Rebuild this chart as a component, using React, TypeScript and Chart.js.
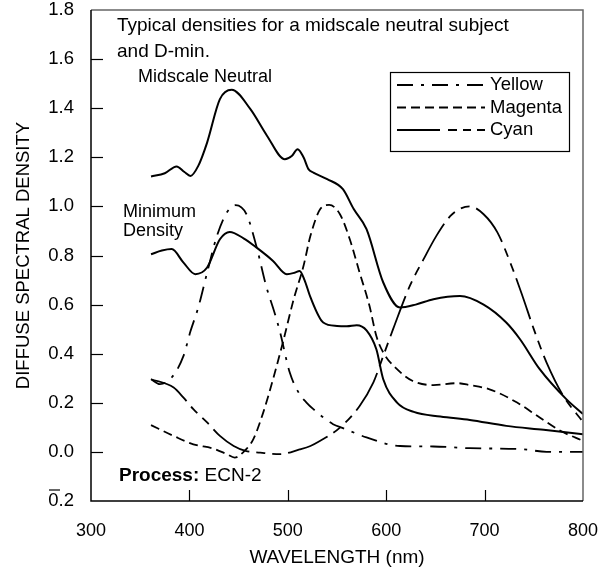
import React, { useEffect, useRef } from 'react';
import { Chart, registerables } from 'chart.js';

Chart.register(...registerables);

const FONT = '"Liberation Sans", Arial, Helvetica, sans-serif';

// Wavelength (nm) and diffuse spectral density values
const yellowNm = [361, 370, 382, 394, 401, 409, 418, 428, 438, 447, 458, 468, 478, 487, 492, 502, 512, 519, 526, 546, 556, 580, 614, 648, 685, 739, 763, 800];
const yellowD = [0.296, 0.276, 0.303, 0.391, 0.49, 0.588, 0.73, 0.88, 0.975, 1.005, 0.968, 0.839, 0.676, 0.561, 0.49, 0.323, 0.235, 0.201, 0.174, 0.113, 0.097, 0.059, 0.024, 0.022, 0.015, 0.011, 0.0, 0.0];

const magentaNm = [361, 384, 404, 424, 438, 446, 456, 465, 475, 485, 495, 506, 516, 523, 533, 542, 553, 563, 573, 583, 590, 597, 611, 627, 648, 672, 685, 705, 733, 756, 777, 800];
const magentaD = [0.109, 0.065, 0.031, 0.014, -0.009, -0.023, 0.004, 0.052, 0.16, 0.296, 0.446, 0.622, 0.758, 0.88, 0.989, 1.006, 0.968, 0.866, 0.73, 0.595, 0.472, 0.405, 0.337, 0.289, 0.272, 0.28, 0.272, 0.255, 0.201, 0.14, 0.086, 0.045];

const cyanNm = [361, 384, 394, 404, 418, 431, 445, 457, 472, 492, 512, 523, 533, 553, 573, 587, 597, 607, 624, 638, 651, 665, 675, 685, 699, 713, 728, 739, 750, 763, 780, 800];
const cyanD = [0.296, 0.262, 0.221, 0.174, 0.12, 0.065, 0.024, 0.004, -0.003, -0.009, 0.01, 0.024, 0.045, 0.099, 0.187, 0.283, 0.391, 0.5, 0.676, 0.785, 0.88, 0.96, 0.99, 1.0, 0.968, 0.894, 0.751, 0.629, 0.5, 0.364, 0.228, 0.122];

const midscaleNm = [361, 375, 387, 395, 401, 409, 418, 431, 443, 462, 479, 497, 504, 510, 516, 521, 526, 540, 556, 567, 580, 597, 614, 630, 648, 675, 699, 722, 736, 756, 783, 800];
const midscaleD = [1.122, 1.135, 1.163, 1.14, 1.124, 1.165, 1.26, 1.437, 1.475, 1.396, 1.287, 1.192, 1.205, 1.233, 1.2, 1.152, 1.138, 1.111, 1.07, 0.989, 0.907, 0.69, 0.588, 0.6, 0.622, 0.635, 0.6, 0.527, 0.459, 0.337, 0.215, 0.154];

const dminNm = [361, 372, 382, 394, 406, 418, 431, 441, 455, 468, 485, 499, 507, 512, 517, 523, 536, 550, 560, 570, 580, 590, 597, 611, 628, 655, 685, 722, 760, 800];
const dminD = [0.805, 0.82, 0.826, 0.771, 0.724, 0.751, 0.866, 0.896, 0.87, 0.833, 0.778, 0.724, 0.73, 0.737, 0.7, 0.63, 0.527, 0.513, 0.512, 0.516, 0.495, 0.418, 0.296, 0.201, 0.163, 0.144, 0.13, 0.106, 0.09, 0.072];

const xTicks = [300, 400, 500, 600, 700, 800];
const yTicks = [-0.2, 0.0, 0.2, 0.4, 0.6, 0.8, 1.0, 1.2, 1.4, 1.6, 1.8];

const legendLabels = ['Yellow', 'Magenta', 'Cyan'];

const YELLOW_DASH = [16, 8, 3, 8];
const MAGENTA_DASH = [9, 5];
const CYAN_DASH = [43, 7, 9, 7, 9, 7];

const toPoints = (xs: number[], ys: number[]) => xs.map((x, i) => ({ x, y: ys[i] }));

const decorPlugin = {
  id: 'decor',
  afterDraw(chart: any) {
    const { ctx, chartArea: ca, scales } = chart;
    const xs = scales.x;
    const ys = scales.y;
    ctx.save();
    // frame
    ctx.setLineDash([]);
    ctx.lineWidth = 1.5;
    ctx.strokeStyle = '#666';
    ctx.beginPath();
    ctx.moveTo(ca.left, ca.top);
    ctx.lineTo(ca.right, ca.top);
    ctx.lineTo(ca.right, ca.bottom);
    ctx.stroke();
    ctx.strokeStyle = '#000';
    ctx.beginPath();
    ctx.moveTo(ca.left, ca.top);
    ctx.lineTo(ca.left, ca.bottom);
    ctx.lineTo(ca.right, ca.bottom);
    ctx.stroke();

    // inward tick marks
    ctx.lineWidth = 1.2;
    ys.ticks.forEach((t: any) => {
      if (t.value > ys.min + 1e-6 && t.value < ys.max - 1e-6) {
        const py = Math.round(ys.getPixelForValue(t.value)) + 0.5;
        ctx.beginPath();
        ctx.moveTo(ca.left, py);
        ctx.lineTo(ca.left + 12, py);
        ctx.stroke();
      }
    });
    xs.ticks.forEach((t: any) => {
      if (t.value > xs.min + 1e-6 && t.value < xs.max - 1e-6) {
        const px = Math.round(xs.getPixelForValue(t.value)) + 0.5;
        ctx.beginPath();
        ctx.moveTo(px, ca.bottom);
        ctx.lineTo(px, ca.bottom - 11);
        ctx.stroke();
      }
    });

    // overbar for the negative tick label (-0.2 written as 0.2 with a bar)
    ctx.font = `18px ${FONT}`;
    const neg = ys.ticks.find((t: any) => t.value < 0);
    if (neg) {
      const py = ys.getPixelForValue(neg.value);
      const right = ca.left - 17;
      const w = ctx.measureText('0.2').width;
      const w0 = ctx.measureText('0').width;
      ctx.lineWidth = 1.2;
      ctx.beginPath();
      ctx.moveTo(right - w, py - 11);
      ctx.lineTo(right - w + w0 + 1, py - 11);
      ctx.stroke();
    }

    // annotations
    ctx.fillStyle = '#000';
    ctx.textBaseline = 'middle';
    ctx.textAlign = 'left';
    ctx.font = `19px ${FONT}`;
    ctx.fillText('Typical densities for a midscale neutral subject', 117, 26);
    ctx.fillText('and D-min.', 117, 52);
    ctx.font = `18px ${FONT}`;
    ctx.fillText('Midscale Neutral', 138, 77);
    ctx.fillText('Minimum', 123, 212);
    ctx.fillText('Density', 123, 231);
    ctx.font = `bold 19px ${FONT}`;
    ctx.fillText('Process:', 119, 476);
    const pw = ctx.measureText('Process: ').width;
    ctx.font = `19px ${FONT}`;
    ctx.fillText('ECN-2', 119 + pw, 476);

    // legend box
    ctx.font = `18.5px ${FONT}`;
    ctx.lineWidth = 1.2;
    ctx.strokeStyle = '#000';
    ctx.strokeRect(390.5, 72.5, 179, 79);
    const rows = [85, 107.5, 130];
    const dashes = [YELLOW_DASH, MAGENTA_DASH, [43, 8, 9, 6, 8, 6, 8]];
    legendLabels.forEach((lab, i) => {
      ctx.setLineDash(dashes[i]);
      ctx.lineWidth = 1.8;
      ctx.beginPath();
      ctx.moveTo(397, rows[i]);
      ctx.lineTo(485, rows[i]);
      ctx.stroke();
      ctx.setLineDash([]);
      ctx.fillText(lab, 490, rows[i]);
    });
    ctx.restore();
  },
};

export default function App() {
  const ref = useRef<HTMLCanvasElement | null>(null);

  useEffect(() => {
    document.body.style.margin = '0';
    document.body.style.overflow = 'hidden';
    const canvas = ref.current;
    if (!canvas) return;
    const common = {
      fill: false,
      pointRadius: 0,
      borderColor: '#000',
      borderWidth: 1.8,
      cubicInterpolationMode: 'monotone' as const,
    };
    const chart = new Chart(canvas, {
      type: 'line',
      data: {
        datasets: [
          { ...common, label: 'Midscale Neutral', data: toPoints(midscaleNm, midscaleD), borderWidth: 2 },
          { ...common, label: 'Minimum Density', data: toPoints(dminNm, dminD), borderWidth: 2 },
          { ...common, label: legendLabels[0], data: toPoints(yellowNm, yellowD), borderDash: YELLOW_DASH },
          { ...common, label: legendLabels[1], data: toPoints(magentaNm, magentaD), borderDash: MAGENTA_DASH },
          { ...common, label: legendLabels[2], data: toPoints(cyanNm, cyanD), borderDash: CYAN_DASH },
        ],
      },
      options: {
        animation: false,
        responsive: false,
        devicePixelRatio: 1,
        layout: { padding: { top: 10, right: 25, left: 0, bottom: 0 } },
        plugins: { legend: { display: false }, tooltip: { enabled: false } },
        scales: {
          x: {
            type: 'linear',
            min: 300,
            max: 800,
            afterBuildTicks: (s: any) => {
              s.ticks = xTicks.map((v) => ({ value: v }));
            },
            afterFit: (s: any) => {
              s.height = 70;
              s.paddingLeft = 0;
              s.paddingRight = 0;
            },
            grid: { display: false, drawTicks: false },
            border: { display: false },
            ticks: {
              padding: 19,
              color: '#000',
              font: { family: FONT, size: 18 },
              maxRotation: 0,
              autoSkip: false,
              callback: (v: any) => String(v),
            },
            title: {
              display: true,
              text: 'WAVELENGTH (nm)',
              color: '#000',
              font: { family: FONT, size: 19 },
              padding: { top: 0, bottom: 2 },
            },
          },
          y: {
            type: 'linear',
            min: -0.2,
            max: 1.8,
            afterBuildTicks: (s: any) => {
              s.ticks = yTicks.map((v) => ({ value: v }));
            },
            afterFit: (s: any) => {
              s.width = 91;
              s.paddingTop = 0;
              s.paddingBottom = 0;
            },
            grid: { display: false, drawTicks: false },
            border: { display: false },
            ticks: {
              padding: 17,
              color: '#000',
              font: { family: FONT, size: 18.5 },
              autoSkip: false,
              callback: (v: any) => Math.abs(Number(v)).toFixed(1),
            },
            title: {
              display: true,
              text: 'DIFFUSE SPECTRAL DENSITY',
              color: '#000',
              font: { family: FONT, size: 18.5 },
              padding: { top: 13, bottom: 0 },
            },
          },
        },
      },
      plugins: [decorPlugin],
    } as any);
    return () => chart.destroy();
  }, []);

  return (
    <div style={{ width: 608, height: 571, position: 'relative' }}>
      <canvas ref={ref} width={608} height={571} style={{ display: 'block', width: 608, height: 571 }} />
    </div>
  );
}
